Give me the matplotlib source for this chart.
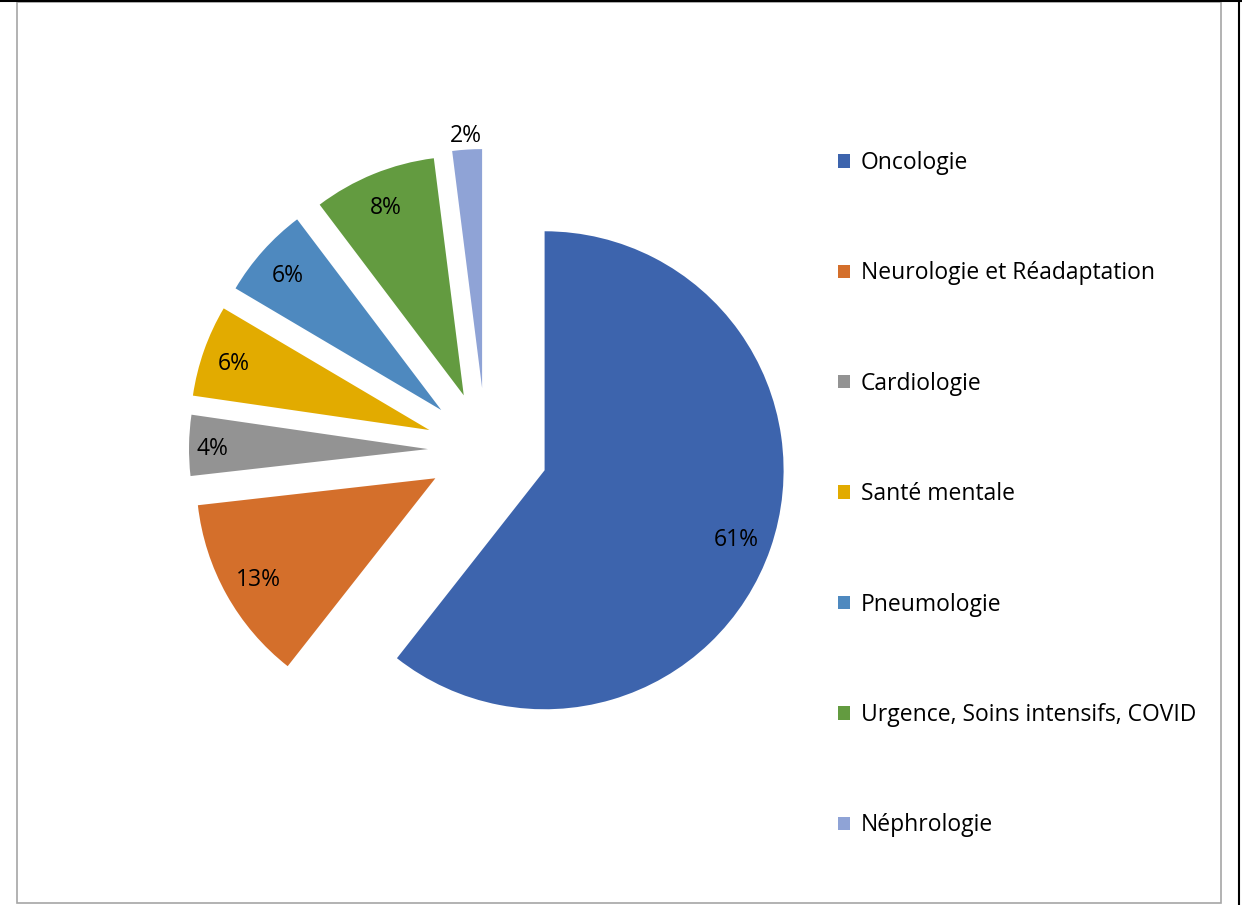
import numpy as np
import matplotlib.pyplot as plt
from matplotlib.patches import Rectangle
from matplotlib.lines import Line2D

plt.rcParams['font.family'] = ['Open Sans', 'DejaVu Sans']

# Données (en %)
services = ['Oncologie', 'Neurologie et Réadaptation', 'Cardiologie',
            'Santé mentale', 'Pneumologie', 'Urgence, Soins intensifs, COVID',
            'Néphrologie']
parts = [60.6, 12.6, 4.1, 6.2, 6.2, 8.3, 2.0]
couleurs = ['#3D64AD', '#D46F2B', '#939393', '#E2AB00', '#4E89BF',
            '#639B40', '#8FA3D6']

W, H = 1242, 905
fig = plt.figure(figsize=(W / 100, H / 100), dpi=100)
ax = fig.add_axes([0, 0, 1, 1])

R = 239
centre = (486, H - 450)
ecarts = [62, 58, 58, 60, 60, 59, 62]          # éclatement des secteurs (px)
dist_etiq = [0.85, 0.85, 0.9, 0.87, 0.86, 0.86, 1.07]  # distance des % (x R)

wedges, textes, autotextes = ax.pie(
    parts, colors=couleurs, startangle=90, counterclock=False,
    explode=ecarts, radius=R, center=centre,
    autopct='%1.0f%%', pctdistance=0.86,
    wedgeprops=dict(linewidth=0),
    textprops=dict(fontsize=16.5, color='black'))

# position des pourcentages (le 2% est à l'extérieur)
for w, t, f in zip(wedges, autotextes, dist_etiq):
    ang = np.deg2rad((w.theta1 + w.theta2) / 2)
    cx, cy = w.center
    t.set_position((cx + f * R * np.cos(ang), cy + f * R * np.sin(ang)))
    t.set_verticalalignment('center_baseline')

ax.set_xlim(0, W)
ax.set_ylim(0, H)
ax.set_aspect('equal')
ax.axis('off')

# Légende
ax.legend(wedges, services, loc='upper left', frameon=False,
          bbox_to_anchor=(838 / W, 1 - 151 / H), bbox_transform=fig.transFigure,
          fontsize=16.5, borderpad=0, borderaxespad=0,
          handlelength=0.52, handleheight=0.52, handletextpad=0.48,
          labelspacing=3.77)

# Cadre
fig.patches.append(Rectangle((17 / W, 2 / H), (1221 - 17) / W, (903 - 2) / H,
                             transform=fig.transFigure, fill=False,
                             edgecolor='#A6A6A6', linewidth=1.2))
fig.lines.append(Line2D([0, 1], [0.999, 0.999], transform=fig.transFigure,
                        color='black', linewidth=1.5))
fig.lines.append(Line2D([1239 / W, 1239 / W], [0, 1], transform=fig.transFigure,
                        color='black', linewidth=1.5))

fig.savefig('out.png', dpi=100)
